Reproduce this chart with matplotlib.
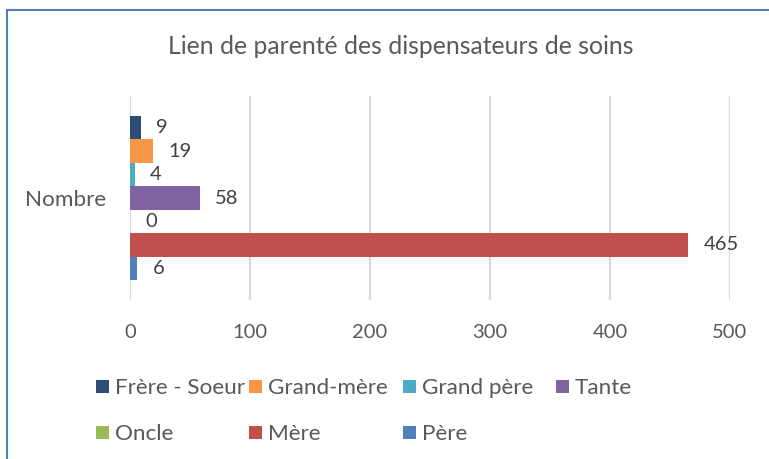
import matplotlib
matplotlib.use("Agg")
import matplotlib.pyplot as plt
from matplotlib.patches import Rectangle

categories = ["Nombre"]
series_names = ["Frère - Soeur", "Grand-mère", "Grand père", "Tante", "Oncle", "Mère", "Père"]
values = [9, 19, 4, 58, 0, 465, 6]
colors = ["#2C4D75", "#F79646", "#4BACC6", "#8064A2", "#9BBB59", "#C0504D", "#4F81BD"]
xticks = [0, 100, 200, 300, 400, 500]
title = "Lien de parenté des dispensateurs de soins"

W, H = 769, 459
fig = plt.figure(figsize=(W / 100, H / 100), dpi=100)
plt.rcParams['font.family'] = ['Lato', 'DejaVu Sans']
txt = "#595959"
fs = 14.5
fs_lbl = 16.2

ax = fig.add_axes([130 / W, 1 - 300 / H, 600 / W, 204 / H])
n = len(values)
h = 0.804 / n
handles = []
for i, (name, v, c) in enumerate(zip(series_names, values, colors)):
    y = (i - (n - 1) / 2) * h
    b = ax.barh(y, v, height=h, color=c, label=name, zorder=3)
    handles.append(b)
    ax.annotate(str(v), (v, y), xytext=(11, 0), textcoords="offset points",
                va="center", ha="left", fontsize=fs, color="#404040")

ax.set_ylim(0.5, -0.5)
ax.set_xlim(0, 500)
ax.set_xticks(xticks)
ax.set_xticklabels([str(t) for t in xticks], fontsize=fs, color=txt)
ax.set_yticks([0])
ax.set_yticklabels(categories, fontsize=fs_lbl, color=txt)
ax.tick_params(axis="both", length=0)
ax.tick_params(axis="x", pad=17)
ax.tick_params(axis="y", pad=17)
ax.grid(axis="x", color="#D9D9D9", linewidth=1.5, zorder=0)
for s in ax.spines.values():
    s.set_visible(False)

fig.text(401 / W, 1 - 47 / H, title, ha="center", va="center", fontsize=17.8, color=txt)

# legend: Excel-style equal-width columns, 4 per row
ncol = 4
x0, colw, y0, rowh, sq = 96, 153.3, 386, 46, 13
for i, (name, c) in enumerate(zip(series_names, colors)):
    r, k = divmod(i, ncol)
    x = x0 + colw * k
    y = y0 + rowh * r
    fig.patches.append(Rectangle((x / W, 1 - (y + sq / 2) / H), sq / W, sq / H,
                                 transform=fig.transFigure, facecolor=c, edgecolor="none"))
    fig.text((x + sq + 6) / W, 1 - y / H, name, ha="left", va="center_baseline",
             fontsize=fs_lbl, color=txt)

fig.patches.append(Rectangle((7 / W, -0.1), 1.2, 1 - 10 / H + 0.1, transform=fig.transFigure,
                             fill=False, edgecolor="#4F81BD", linewidth=1.5))
fig.savefig("out.png", dpi=100)
